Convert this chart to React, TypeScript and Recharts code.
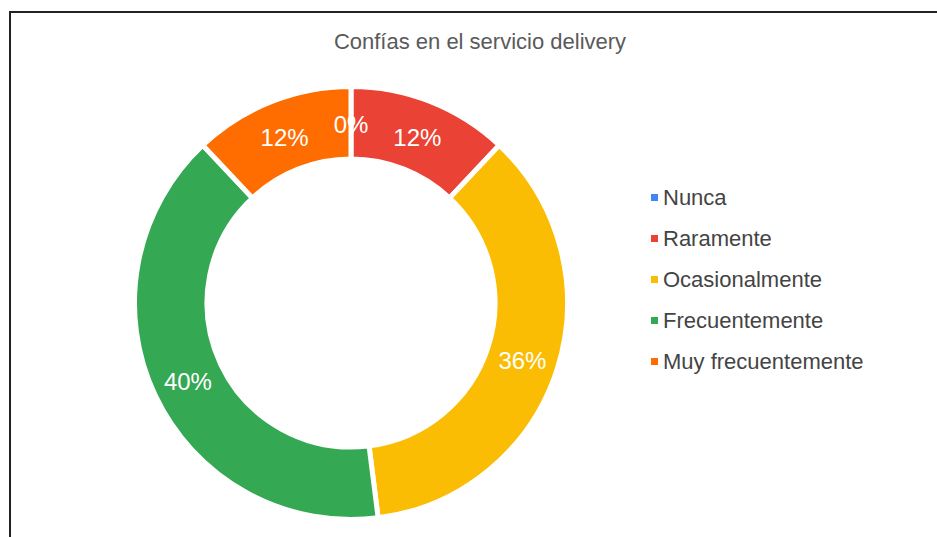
import { PieChart, Pie, Cell, Legend } from "recharts";

const categories = ["Nunca", "Raramente", "Ocasionalmente", "Frecuentemente", "Muy frecuentemente"];
const values = [0, 12, 36, 40, 12];
const colors = ["#4285f4", "#ea4335", "#fbbc04", "#34a853", "#ff6d01"];
const title = "Confías en el servicio delivery";

const data = categories.map((name, i) => ({ name, value: values[i] }));

const RADIAN = Math.PI / 180;

const renderLabel = (props: any) => {
  const { cx, cy, midAngle, innerRadius, outerRadius, percent } = props;
  const r = (innerRadius + outerRadius) / 2;
  const x = cx + r * Math.cos(-midAngle * RADIAN);
  const y = cy + r * Math.sin(-midAngle * RADIAN) + 2;
  return (
    <text
      x={x}
      y={y}
      fill="#ffffff"
      fontSize={24}
      fontFamily="Liberation Sans, Arial, sans-serif"
      textAnchor="middle"
      dominantBaseline="central"
    >
      {`${Math.round(percent * 100)}%`}
    </text>
  );
};

const renderLegend = () => (
  <div style={{ fontFamily: "Liberation Sans, Arial, sans-serif" }}>
    {categories.map((name, i) => (
      <div
        key={name}
        style={{ display: "flex", alignItems: "center", height: 41, fontSize: 22, color: "#444444" }}
      >
        <span
          style={{ display: "inline-block", width: 7, height: 7, background: colors[i], marginRight: 5 }}
        />
        {name}
      </div>
    ))}
  </div>
);

export default function App() {
  return (
    <div style={{ position: "absolute", left: 0, top: 0, width: 937, height: 537, background: "#fff", overflow: "hidden" }}>
      <div
        style={{
          position: "absolute",
          left: 9,
          top: 11,
          width: 1000,
          height: 1000,
          borderLeft: "2px solid #222",
          borderTop: "2px solid #222",
        }}
      />
      <div
        style={{
          position: "absolute",
          left: 0,
          width: 960,
          top: 29,
          textAlign: "center",
          fontFamily: "Liberation Sans, Arial, sans-serif",
          fontSize: 22,
          color: "#5a5a5a",
        }}
      >
        {title}
      </div>
      <div style={{ position: "absolute", left: 0, top: 0 }}>
        <PieChart width={937} height={537} margin={{ top: 0, right: 0, bottom: 0, left: 0 }}>
          <Pie
            data={data}
            dataKey="value"
            nameKey="name"
            cx={351}
            cy={303}
            innerRadius={144}
            outerRadius={216.5}
            startAngle={90}
            endAngle={-270}
            stroke="#ffffff"
            strokeWidth={5}
            label={renderLabel}
            labelLine={false}
            isAnimationActive={false}
          >
            {data.map((d, i) => (
              <Cell key={d.name} fill={colors[i]} />
            ))}
          </Pie>
          <Legend
            layout="vertical"
            content={renderLegend}
            wrapperStyle={{ position: "absolute", left: 651, top: 177, width: 280 }}
          />
        </PieChart>
      </div>
    </div>
  );
}
